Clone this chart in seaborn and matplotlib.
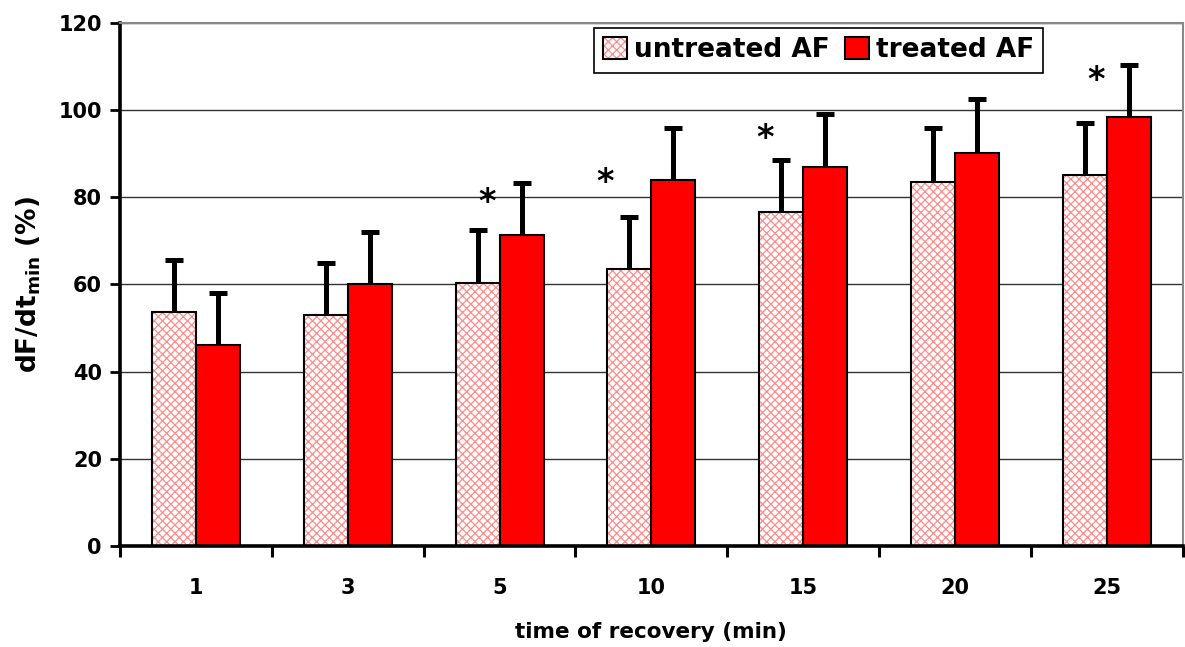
import numpy as np
import pandas as pd
import matplotlib
matplotlib.use("Agg")
import matplotlib.pyplot as plt
import matplotlib.colors as mcolors
from matplotlib.ticker import FixedLocator
import seaborn as sns

# ---- data ----
times = ['1', '3', '5', '10', '15', '20', '25']
untreated = [53.7, 53.0, 60.3, 63.6, 76.6, 83.5, 85.1]
untreated_err = [11.9, 11.9, 12.2, 11.9, 12.0, 12.4, 12.0]
treated = [46.1, 60.1, 71.4, 84.0, 87.0, 90.2, 98.4]
treated_err = [11.9, 11.9, 11.9, 12.0, 12.1, 12.4, 12.0]
groups = ['untreated AF', 'treated AF']
y_ticks = [0, 20, 40, 60, 80, 100, 120]
# significance markers: (category, x offset within group, y value)
stars = [('5', -0.083, 78.7), ('10', -0.306, 83.5), ('15', -0.253, 93.4), ('25', -0.073, 106.8)]

df = pd.DataFrame({
    'time': times * 2,
    'group': [groups[0]] * len(times) + [groups[1]] * len(times),
    'value': untreated + treated,
})

sns.set_style('white')
plt.rcParams['font.family'] = ['DejaVu Sans']
plt.rcParams['font.weight'] = 'bold'
plt.rcParams['mathtext.fontset'] = 'dejavusans'
plt.rcParams['mathtext.default'] = 'bf'
plt.rcParams['hatch.linewidth'] = 0.9
for k in ['text.color', 'axes.labelcolor', 'xtick.color', 'ytick.color']:
    plt.rcParams[k] = 'black'

fig = plt.figure(figsize=(11.85, 6.47), dpi=100)
ax = fig.add_axes([0.1013, 0.1561, 0.8967, 0.8084])

hatch_col = mcolors.to_rgba('#ff8a8a')
sns.barplot(data=df, x='time', y='value', hue='group', order=times, hue_order=groups,
            palette={groups[0]: 'white', groups[1]: '#ff0000'}, saturation=1,
            width=0.58, edgecolor='black', linewidth=1.5, errorbar=None,
            legend=False, ax=ax, zorder=2)

for p in ax.containers[0]:
    p.set_hatch('xxxx')
    p._hatch_color = hatch_col

# error bars (upper only)
for cont, errs in zip(list(ax.containers)[:2], [untreated_err, treated_err]):
    xs = [p.get_x() + p.get_width() / 2 for p in cont]
    ys = [p.get_height() for p in cont]
    eb = ax.errorbar(xs, ys, yerr=[np.zeros(len(errs)), errs], fmt='none', ecolor='black',
                     elinewidth=3.6, capsize=6.5, capthick=3.6, zorder=3)
    for cl in eb[1]:
        if np.allclose(cl.get_ydata(), ys):
            cl.set_visible(False)
        else:
            cl.set_solid_capstyle('round')

# stars
for cat, dx, yv in stars:
    ax.text(times.index(cat) + dx, yv, '*', ha='center', va='center',
            fontsize=24, fontweight='bold', color='black', zorder=4)

ax.set_xlim(-0.5, len(times) - 0.5)
ax.set_ylim(0, 120)
ax.set_yticks(y_ticks)
ax.set_yticklabels([str(t) for t in y_ticks], fontsize=15, fontweight='bold')
ax.set_xticks(range(len(times)))
ax.set_xticklabels(times, fontsize=15, fontweight='bold')
ax.xaxis.set_minor_locator(FixedLocator(np.arange(-0.5, len(times), 1.0)))

ax.tick_params(axis='y', which='major', direction='out', length=7, width=2, pad=6,
               color='black', left=True)
ax.tick_params(axis='x', which='major', length=0, pad=23)
ax.tick_params(axis='x', which='minor', direction='out', length=8, width=2.2,
               color='black', bottom=True)

ax.set_axisbelow(True)
ax.yaxis.grid(True, color='#333333', linewidth=1.0)
ax.xaxis.grid(False)

for s in ['left', 'bottom']:
    ax.spines[s].set_color('black')
    ax.spines[s].set_linewidth(2.6)
for s in ['top', 'right']:
    ax.spines[s].set_color('#888888')
    ax.spines[s].set_linewidth(1.5)

ax.set_xlabel('time of recovery (min)', fontsize=15.5, fontweight='bold', labelpad=17)
ax.set_ylabel('dF/dt$_{min}$ (%)', fontsize=19, fontweight='bold', labelpad=11)

leg = ax.legend(handles=list(ax.containers)[:2], labels=groups, ncol=2,
                loc='upper left', bbox_to_anchor=(594 / 1185, 1 - 28 / 647),
                bbox_transform=fig.transFigure, borderaxespad=0,
                prop={'size': 19, 'weight': 'bold'}, frameon=True, fancybox=False,
                edgecolor='black', framealpha=1, handlelength=0.9, handleheight=0.9,
                handletextpad=0.25, columnspacing=0.6, borderpad=0.35)
leg.get_frame().set_linewidth(1.2)
lh = leg.legend_handles
lh[0].set_hatch('xxxx')
lh[0]._hatch_color = hatch_col

fig.savefig('out.png', dpi=100)
